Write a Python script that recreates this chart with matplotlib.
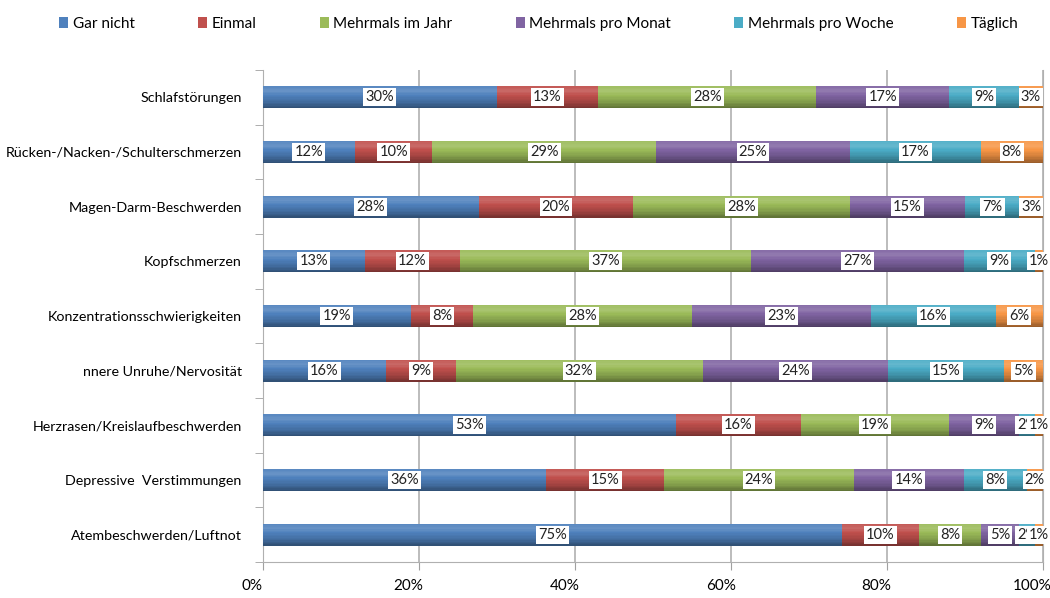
import numpy as np
import matplotlib
matplotlib.use("Agg")
from matplotlib import pyplot as plt
from matplotlib.transforms import ScaledTranslation

plt.rcParams['font.family'] = ['Lato', 'DejaVu Sans']

categories = ["Schlafstörungen", "Rücken-/Nacken-/Schulterschmerzen", "Magen-Darm-Beschwerden",
              "Kopfschmerzen", "Konzentrationsschwierigkeiten", "nnere Unruhe/Nervosität",
              "Herzrasen/Kreislaufbeschwerden", "Depressive  Verstimmungen", "Atembeschwerden/Luftnot"]
series = ["Gar nicht", "Einmal", "Mehrmals im Jahr", "Mehrmals pro Monat", "Mehrmals pro Woche", "Täglich"]

gar_nicht = [30, 12, 28, 13, 19, 16, 53, 36, 75]
einmal = [13, 10, 20, 12, 8, 9, 16, 15, 10]
im_jahr = [28, 29, 28, 37, 28, 32, 19, 24, 8]
pro_monat = [17, 25, 15, 27, 23, 24, 9, 14, 5]
pro_woche = [9, 17, 7, 9, 16, 15, 2, 8, 2]
taeglich = [3, 8, 3, 1, 6, 5, 1, 2, 1]

colors = ["#4F81BD", "#C0504D", "#9BBB59", "#8064A2", "#4BACC6", "#F79646"]

vals = np.array([gar_nicht, einmal, im_jahr, pro_monat, pro_woche, taeglich], dtype=float)
# 100% stacked: normalise each category
share = vals / vals.sum(axis=0) * 100

fig = plt.figure(figsize=(10.5, 5.98), dpi=100)
ax = fig.add_axes([0.25, 0.06, 0.743, 0.823])

bar_h = 0.4
nstrip = 16
# shading across the bar: light near the top, dark at the bottom (cylinder look)
offs = np.linspace(-bar_h / 2, bar_h / 2, nstrip + 1)
mids = (offs[:-1] + offs[1:]) / 2
shade = np.interp(mids / (bar_h / 2), [-1, -0.6, -0.2, 0.4, 1], [0.05, 0.15, 0.0, -0.15, -0.4])

y = np.arange(len(categories))
left = np.zeros(len(categories))
for i, name in enumerate(series):
    ax.barh(y, share[i], left=left, height=bar_h, color=colors[i], label=name, zorder=3)
    for m, s in zip(mids, shade):
        c = "white" if s > 0 else "black"
        ax.barh(y + m, share[i], left=left, height=bar_h / nstrip, color=c, alpha=abs(s),
                zorder=4, lw=0)
    for j in range(len(categories)):
        ax.text(left[j] + share[i][j] / 2, y[j], "%d%%" % vals[i][j], ha="center", va="center",
                fontsize=10.5, color="#222222", zorder=6,
                bbox=dict(boxstyle="square,pad=0.14", fc="white", ec="none"))
    left += share[i]

ax.set_ylim(len(categories) - 0.5, -0.5)
ax.set_xlim(0, 100)
ax.set_yticks(y)
ax.set_yticklabels(categories, fontsize=10.3)
ax.set_yticks(np.arange(-0.5, len(categories)), minor=True)
ax.tick_params(axis="y", which="major", length=0, pad=15)
ax.tick_params(axis="y", which="minor", length=6, color="#A0A0A0")
ax.set_xticks(np.arange(0, 101, 20))
ax.set_xticklabels(["%d%%" % t for t in range(0, 101, 20)], fontsize=11)
ax.tick_params(axis="x", length=6, color="#A0A0A0", pad=6)
shift = ScaledTranslation(-10 / 100, 0, fig.dpi_scale_trans)
for lab in ax.get_xticklabels():
    lab.set_transform(lab.get_transform() + shift)
ax.grid(axis="x", color="#B0B0B0", lw=1.2, zorder=0)
for s in ["left", "bottom", "right"]:
    ax.spines[s].set_color("#B0B0B0")
ax.spines["top"].set_visible(False)

fig.legend(loc="upper left", bbox_to_anchor=(0.043, 0.995, 0.94, 0.0), mode="expand", ncol=6,
           frameon=False, fontsize=11, handlelength=0.6, handleheight=0.8, handletextpad=0.3)

plt.savefig("out.png", dpi=100)
